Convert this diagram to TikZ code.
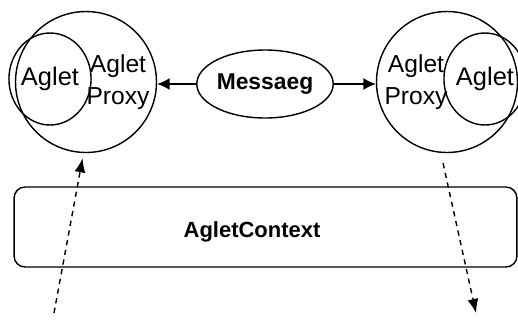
\documentclass[tikz,border=0pt]{standalone}
\usepackage{fontspec}
\setmainfont{Liberation Sans}
\usetikzlibrary{positioning,arrows.meta,shapes,calc}

\begin{document}
\begin{tikzpicture}[
                    x=0.02cm, y=-0.02cm,
                    proxy/.style={circle, draw, thick, minimum size=2.82cm, inner sep=0pt},
                    aglet/.style={ellipse, draw, thick, minimum width=1.22cm, minimum height=1.84cm, inner sep=0pt, font=\fontsize{14.5}{17}\selectfont},
                    msgbox/.style={ellipse, draw, thick, minimum width=2.4cm, minimum height=1.36cm, inner sep=0pt, font=\bfseries\fontsize{13}{16}\selectfont},
                    ctxbox/.style={rectangle, draw, thick, rounded corners=0.22cm, minimum width=10.06cm, minimum height=1.6cm},
                    txt/.style={align=center, inner sep=0pt, font=\fontsize{14}{18}\selectfont},
                    send/.style={-{Latex[length=0.25cm, width=0.24cm]}, thick},
                    move/.style={-{Latex[length=0.28cm, width=0.22cm]}, thick, dash pattern=on 3pt off 2.6pt}
                ]
                    \useasboundingbox (0,0) rectangle (518,322);

                    % Left proxy with its aglet
                    \node[proxy] (lproxy) at (86,82) {};
                    \node[aglet] (laglet) at (50,79) {Aglet};
                    \node[txt] (lproxytxt) at (118,82) {Aglet\\Proxy};

                    % Right proxy with its aglet
                    \node[proxy] (rproxy) at (447,82) {};
                    \node[aglet] (raglet) at (485,79) {Aglet};
                    \node[txt] (rproxytxt) at (416,82) {Aglet\\Proxy};

                    % Message between the proxies
                    \node[msgbox] (msg) at (265,84) {Messaeg};
                    \draw[send] (msg.west) -- (lproxy.east |- msg.west);
                    \draw[send] (msg.east) -- (rproxy.west |- msg.east);

                    % Context
                    \node[ctxbox] (ctx) at (265.5,227) {};
                    \node[txt, font=\bfseries\fontsize{12.5}{15}\selectfont] (ctxtxt) at (252,232) {AgletContext};

                    % Aglets entering and leaving
                    \coordinate (lin) at (54,313);
                    \coordinate (rout) at (476,313);
                    \draw[move, shorten >=3pt] (lin) -- (lproxy.-92);
                    \draw[move, shorten <=6pt] (rproxy.-95) -- (rout);
                \end{tikzpicture}
\end{document}
